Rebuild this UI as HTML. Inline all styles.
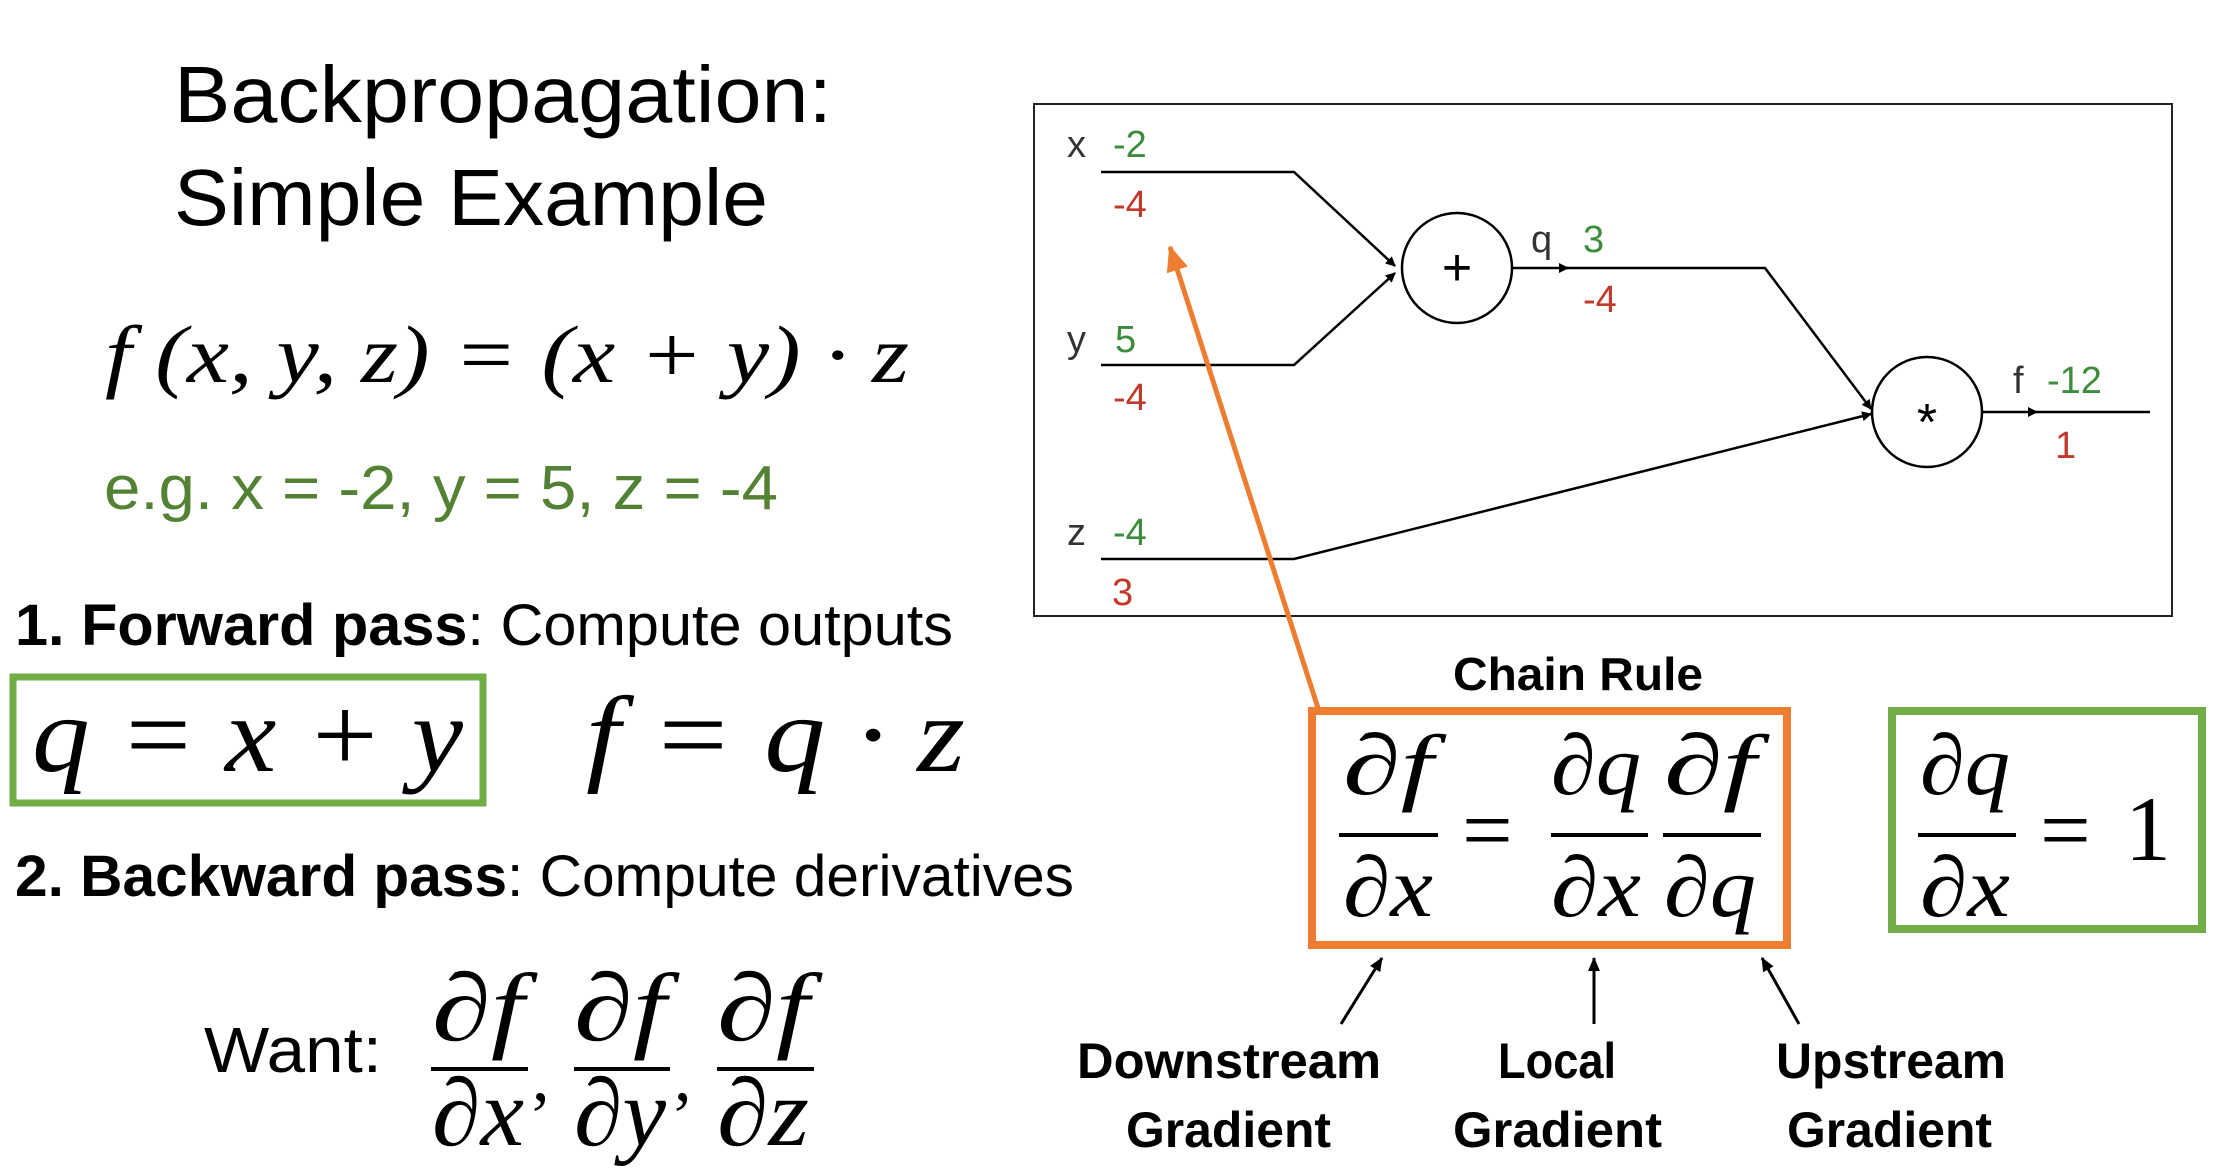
<!DOCTYPE html>
<html><head><meta charset="utf-8"><style>html,body{margin:0;padding:0;background:#fff}svg{display:block}</style></head>
<body>
<svg width="2228" height="1174" viewBox="0 0 2228 1174" xmlns="http://www.w3.org/2000/svg">
<defs>
<marker id="ah" markerWidth="10" markerHeight="10" refX="9" refY="5" orient="auto" markerUnits="userSpaceOnUse"><path d="M0,0 L10,5 L0,10 z" fill="#000"/></marker>
<marker id="ahs" markerWidth="14" markerHeight="12" refX="13" refY="6" orient="auto" markerUnits="userSpaceOnUse"><path d="M0,0 L14,6 L0,12 z" fill="#000"/></marker>
<marker id="aho" markerWidth="26" markerHeight="22" refX="24" refY="11" orient="auto" markerUnits="userSpaceOnUse"><path d="M0,0 L26,11 L0,22 z" fill="#ed7d31"/></marker>
</defs>
<g font-family="Liberation Sans, sans-serif">
<text x="174" y="122" font-size="80" textLength="658" lengthAdjust="spacingAndGlyphs">Backpropagation:</text>
<text x="174" y="225" font-size="80" textLength="594" lengthAdjust="spacingAndGlyphs">Simple Example</text>
<text x="104" y="509" font-size="62" fill="#548235" textLength="674" lengthAdjust="spacingAndGlyphs">e.g. x = -2, y = 5, z = -4</text>
<text x="15" y="645" font-size="58" textLength="938" lengthAdjust="spacingAndGlyphs"><tspan font-weight="bold">1. Forward pass</tspan>: Compute outputs</text>
<text x="15" y="896" font-size="58" textLength="1059" lengthAdjust="spacingAndGlyphs"><tspan font-weight="bold">2. Backward pass</tspan>: Compute derivatives</text>
<text x="204" y="1072" font-size="64" textLength="178" lengthAdjust="spacingAndGlyphs">Want:</text>
</g>
<g font-family="Liberation Serif, DejaVu Serif, serif" font-style="italic">
<text x="105" y="382" font-size="82" textLength="804" lengthAdjust="spacingAndGlyphs">f (x, y, z) = (x + y) · z</text>
<text x="32" y="771" font-size="108" textLength="431" lengthAdjust="spacingAndGlyphs">q = x + y</text>
<text x="586" y="771" font-size="108" textLength="379" lengthAdjust="spacingAndGlyphs">f = q · z</text>
<text x="432" y="1040" font-size="96" textLength="92" lengthAdjust="spacingAndGlyphs">∂f</text>
<text x="574" y="1040" font-size="96" textLength="92" lengthAdjust="spacingAndGlyphs">∂f</text>
<text x="717" y="1040" font-size="96" textLength="92" lengthAdjust="spacingAndGlyphs">∂f</text>
<text x="432" y="1145" font-size="96" textLength="92" lengthAdjust="spacingAndGlyphs">∂x</text>
<text x="574" y="1145" font-size="96" textLength="92" lengthAdjust="spacingAndGlyphs">∂y</text>
<text x="717" y="1145" font-size="96" textLength="92" lengthAdjust="spacingAndGlyphs">∂z</text>
<text x="532" y="1100" font-size="70" font-style="normal">,</text>
<text x="674" y="1100" font-size="70" font-style="normal">,</text>
</g>
<g stroke="#000" stroke-width="4">
<line x1="431" y1="1069" x2="528" y2="1069"/>
<line x1="574" y1="1069" x2="670" y2="1069"/>
<line x1="717" y1="1069" x2="814" y2="1069"/>
</g>
<rect x="13" y="677" width="470" height="126" fill="none" stroke="#70ad47" stroke-width="7"/>

<!-- diagram -->
<rect x="1034" y="104" width="1138" height="512" fill="#fff" stroke="#222" stroke-width="2"/>
<g fill="none" stroke="#000" stroke-width="2.5">
<polyline points="1101,172 1294,172 1395,266" marker-end="url(#ah)"/>
<polyline points="1101,365 1294,365 1395,273" marker-end="url(#ah)"/>
<polyline points="1512,268 1568,268" marker-end="url(#ah)"/>
<polyline points="1563,268 1765,268 1871,409" marker-end="url(#ah)"/>
<polyline points="1101,559 1294,559 1871,414" marker-end="url(#ah)"/>
<polyline points="1983,412 2037,412" marker-end="url(#ah)"/>
<line x1="2030" y1="412" x2="2150" y2="412"/>
<circle cx="1457" cy="268" r="55" fill="#fff"/>
<circle cx="1927" cy="412" r="55" fill="#fff"/>
</g>
<g font-family="Liberation Sans, DejaVu Sans, sans-serif" font-size="38">
<text x="1457" y="285" font-size="52" text-anchor="middle">+</text>
<text x="1927" y="440" font-size="52" text-anchor="middle">*</text>
<text x="1067" y="157" fill="#333">x</text>
<text x="1113" y="157" fill="#3c8c3c">-2</text>
<text x="1113" y="217" fill="#c0392b">-4</text>
<text x="1067" y="352" fill="#333">y</text>
<text x="1115" y="352" fill="#3c8c3c">5</text>
<text x="1113" y="410" fill="#c0392b">-4</text>
<text x="1067" y="545" fill="#333">z</text>
<text x="1113" y="545" fill="#3c8c3c">-4</text>
<text x="1112" y="605" fill="#c0392b">3</text>
<text x="1531" y="252" fill="#333">q</text>
<text x="1583" y="252" fill="#3c8c3c">3</text>
<text x="1583" y="312" fill="#c0392b">-4</text>
<text x="2013" y="393" fill="#333">f</text>
<text x="2047" y="393" fill="#3c8c3c">-12</text>
<text x="2055" y="458" fill="#c0392b">1</text>
</g>

<line x1="1318" y1="708" x2="1170" y2="247" stroke="#ed7d31" stroke-width="5" marker-end="url(#aho)"/>

<text x="1453" y="690" font-family="Liberation Sans, sans-serif" font-weight="bold" font-size="46" textLength="250" lengthAdjust="spacingAndGlyphs">Chain Rule</text>
<rect x="1312" y="711" width="475" height="234" fill="#fff" stroke="#ed7d31" stroke-width="8"/>
<rect x="1892" y="711" width="310" height="218" fill="#fff" stroke="#70ad47" stroke-width="8"/>
<g font-family="Liberation Serif, DejaVu Serif, serif" font-style="italic" font-size="86">
<text x="1343" y="794" textLength="90" lengthAdjust="spacingAndGlyphs">∂f</text>
<text x="1343" y="916" textLength="90" lengthAdjust="spacingAndGlyphs">∂x</text>
<text x="1551" y="794" textLength="90" lengthAdjust="spacingAndGlyphs">∂q</text>
<text x="1551" y="916" textLength="90" lengthAdjust="spacingAndGlyphs">∂x</text>
<text x="1664" y="794" textLength="92" lengthAdjust="spacingAndGlyphs">∂f</text>
<text x="1664" y="916" textLength="92" lengthAdjust="spacingAndGlyphs">∂q</text>
<text x="1920" y="794" textLength="90" lengthAdjust="spacingAndGlyphs">∂q</text>
<text x="1920" y="916" textLength="90" lengthAdjust="spacingAndGlyphs">∂x</text>
<text x="1462" y="860" font-style="normal" font-size="90">=</text>
<text x="2040" y="860" font-style="normal" font-size="90">=</text>
<text x="2125" y="860" font-style="normal" font-size="92">1</text>
</g>
<g stroke="#000" stroke-width="4">
<line x1="1339" y1="835" x2="1438" y2="835"/>
<line x1="1551" y1="835" x2="1648" y2="835"/>
<line x1="1663" y1="835" x2="1761" y2="835"/>
<line x1="1918" y1="835" x2="2016" y2="835"/>
</g>
<g stroke="#000" stroke-width="3">
<line x1="1341" y1="1024" x2="1382" y2="958" marker-end="url(#ahs)"/>
<line x1="1594" y1="1024" x2="1594" y2="958" marker-end="url(#ahs)"/>
<line x1="1799" y1="1024" x2="1762" y2="958" marker-end="url(#ahs)"/>
</g>
<g font-family="Liberation Sans, sans-serif" font-weight="bold" font-size="50">
<text x="1077" y="1078" textLength="304" lengthAdjust="spacingAndGlyphs">Downstream</text>
<text x="1126" y="1147" textLength="205" lengthAdjust="spacingAndGlyphs">Gradient</text>
<text x="1498" y="1078" textLength="118" lengthAdjust="spacingAndGlyphs">Local</text>
<text x="1453" y="1147" textLength="209" lengthAdjust="spacingAndGlyphs">Gradient</text>
<text x="1776" y="1078" textLength="230" lengthAdjust="spacingAndGlyphs">Upstream</text>
<text x="1787" y="1147" textLength="205" lengthAdjust="spacingAndGlyphs">Gradient</text>
</g>
</svg>
</body></html>
